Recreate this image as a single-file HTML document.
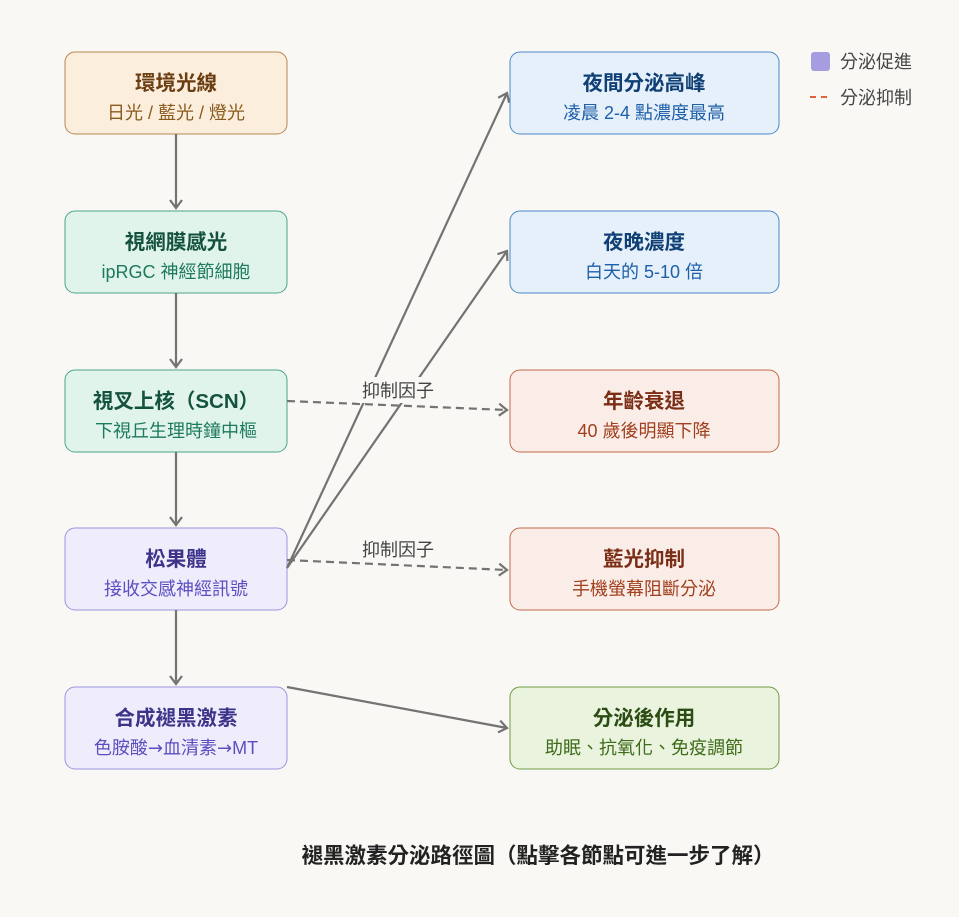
<!DOCTYPE html>
<html><head><meta charset="utf-8"><style>
html,body{margin:0;padding:0;background:#f9f8f5;}
svg{display:block;font-family:"Liberation Sans","Noto Sans CJK TC",sans-serif;}
.t{font-size:20.5px;font-weight:bold;text-anchor:middle;}
.s{font-size:18px;text-anchor:middle;}
</style></head><body>
<svg width="959" height="917" viewBox="0 0 959 917" xmlns="http://www.w3.org/2000/svg">
<defs>
<marker id="a" markerWidth="14" markerHeight="14" refX="10" refY="7" orient="auto" markerUnits="userSpaceOnUse">
<path d="M2,1 L10,7 L2,13" fill="none" stroke="#737373" stroke-width="2.2"/></marker>
</defs>
<rect width="959" height="917" fill="#f9f8f5"/>
<rect x="65" y="52" width="222" height="82" rx="10" fill="#fbeedd" stroke="#b8874f"/>
<text class="t" x="176" y="90" fill="#6b3e12">環境光線</text>
<text class="s" x="176" y="119" fill="#8a5a1e">日光 / 藍光 / 燈光</text>
<rect x="65" y="211" width="222" height="82" rx="10" fill="#e1f4ec" stroke="#4aa585"/>
<text class="t" x="176" y="249" fill="#14523e">視網膜感光</text>
<text class="s" x="176" y="278" fill="#1d7a5c">ipRGC 神經節細胞</text>
<rect x="65" y="370" width="222" height="82" rx="10" fill="#e1f4ec" stroke="#4aa585"/>
<text class="t" x="176" y="408" fill="#14523e">視叉上核（SCN）</text>
<text class="s" x="176" y="437" fill="#1d7a5c">下視丘生理時鐘中樞</text>
<rect x="65" y="528" width="222" height="82" rx="10" fill="#efedfc" stroke="#9b93dc"/>
<text class="t" x="176" y="566" fill="#3c3489">松果體</text>
<text class="s" x="176" y="595" fill="#5b4fc0">接收交感神經訊號</text>
<rect x="65" y="687" width="222" height="82" rx="10" fill="#efedfc" stroke="#9b93dc"/>
<text class="t" x="176" y="725" fill="#3c3489">合成褪黑激素</text>
<text class="s" x="176" y="754" fill="#5b4fc0">色胺酸<tspan font-family="DejaVu Sans">→</tspan>血清素<tspan font-family="DejaVu Sans">→</tspan>MT</text>
<rect x="510" y="52" width="269" height="82" rx="10" fill="#e5f0fb" stroke="#4a88c7"/>
<text class="t" x="644" y="90" fill="#0f3f74">夜間分泌高峰</text>
<text class="s" x="644" y="119" fill="#1e5fa8">凌晨 2-4 點濃度最高</text>
<rect x="510" y="211" width="269" height="82" rx="10" fill="#e5f0fb" stroke="#4a88c7"/>
<text class="t" x="644" y="249" fill="#0f3f74">夜晚濃度</text>
<text class="s" x="644" y="278" fill="#1e5fa8">白天的 5-10 倍</text>
<rect x="510" y="370" width="269" height="82" rx="10" fill="#faece7" stroke="#c46a4a"/>
<text class="t" x="644" y="408" fill="#7a2e16">年齡衰退</text>
<text class="s" x="644" y="437" fill="#a0401f">40 歲後明顯下降</text>
<rect x="510" y="528" width="269" height="82" rx="10" fill="#faece7" stroke="#c46a4a"/>
<text class="t" x="644" y="566" fill="#7a2e16">藍光抑制</text>
<text class="s" x="644" y="595" fill="#a0401f">手機螢幕阻斷分泌</text>
<rect x="510" y="687" width="269" height="82" rx="10" fill="#eaf3de" stroke="#6f9a45"/>
<text class="t" x="644" y="725" fill="#2b4c12">分泌後作用</text>
<text class="s" x="644" y="754" fill="#3f6b1a">助眠、抗氧化、免疫調節</text>
<g stroke="#737373" stroke-width="2.2" fill="none">
<line x1="176" y1="134" x2="176" y2="208" marker-end="url(#a)"/>
<line x1="176" y1="293" x2="176" y2="367" marker-end="url(#a)"/>
<line x1="176" y1="452" x2="176" y2="525" marker-end="url(#a)"/>
<line x1="176" y1="610" x2="176" y2="684" marker-end="url(#a)"/>
<line x1="287" y1="568" x2="507" y2="93" marker-end="url(#a)"/>
<line x1="287" y1="568" x2="507" y2="251" marker-end="url(#a)"/>
<line x1="287" y1="687" x2="507" y2="728" marker-end="url(#a)"/>
<line x1="287" y1="401" x2="507" y2="410" stroke-dasharray="8,5" marker-end="url(#a)"/>
<line x1="287" y1="560" x2="507" y2="570" stroke-dasharray="8,5" marker-end="url(#a)"/>
</g>
<rect x="357" y="377" width="82" height="26" fill="#f9f8f5"/>
<text x="398" y="397" font-size="18" text-anchor="middle" fill="#444">抑制因子</text>
<rect x="357" y="536" width="82" height="26" fill="#f9f8f5"/>
<text x="398" y="556" font-size="18" text-anchor="middle" fill="#444">抑制因子</text>
<rect x="811" y="52" width="19" height="19" rx="3" fill="#a59de0"/>
<text x="840" y="68" font-size="18" fill="#444">分泌促進</text>
<line x1="810" y1="97" x2="830" y2="97" stroke="#e0603a" stroke-width="2" stroke-dasharray="6,5"/>
<text x="840" y="104" font-size="18" fill="#444">分泌抑制</text>
<text x="538" y="863" font-size="21.5" font-weight="bold" text-anchor="middle" fill="#222">褪黑激素分泌路徑圖（點擊各節點可進一步了解）</text>
</svg>
</body></html>
